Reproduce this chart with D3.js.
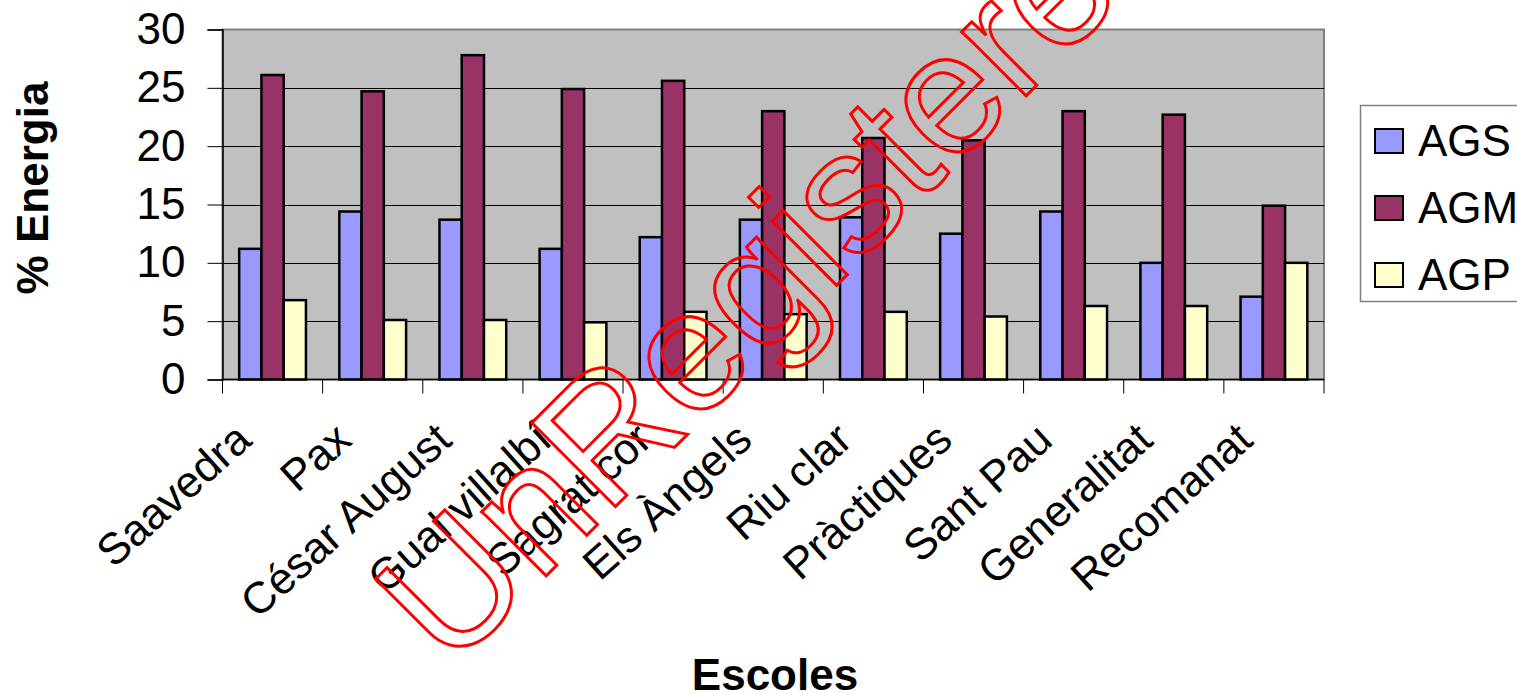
<!DOCTYPE html>
<html>
<head>
<meta charset="utf-8">
<script src="https://cdn.jsdelivr.net/npm/d3@7"></script>
<style>
  html, body { margin: 0; padding: 0; background: #fff; }
  svg { display: block; }
  text { font-family: "Liberation Sans", Arial, sans-serif; }
</style>
</head>
<body>
<svg id="chart" width="1517" height="694"></svg>
<script>
// Energy share by school, three fat groups
const categories = ["Saavedra", "Pax", "César August", "Gual villalbí", "Sagrat cor",
  "Els Àngels", "Riu clar", "Pràctiques", "Sant Pau", "Generalitat", "Recomanat"];
const seriesNames = ["AGS", "AGM", "AGP"];
const agsValues = [11.2, 14.4, 13.7, 11.2, 12.2, 13.7, 13.9, 12.5, 14.4, 10.0, 7.1];
const agmValues = [26.1, 24.7, 27.8, 24.9, 25.6, 23.0, 20.7, 20.5, 23.0, 22.7, 14.9];
const agpValues = [6.8, 5.1, 5.1, 4.9, 5.8, 5.6, 5.8, 5.4, 6.3, 6.3, 10.0];
const yTicks = [0, 5, 10, 15, 20, 25, 30];
const seriesColors = ["#9999FF", "#993366", "#FFFFCC"];

const seriesValues = [agsValues, agmValues, agpValues];

const svg = d3.select("#chart");
const plot = { left: 222.5, right: 1324, top: 29.5, bottom: 379.5 };

const x = d3.scaleBand().domain(categories).range([plot.left, plot.right]).paddingInner(0).paddingOuter(0);
const groupWidth = x.bandwidth() / 1.5;
const xs = d3.scaleBand().domain(seriesNames).range([0, groupWidth]);
const y = d3.scaleLinear().domain([0, 30]).range([plot.bottom, plot.top]);

// plot background
svg.append("rect")
  .attr("x", plot.left).attr("y", plot.top)
  .attr("width", plot.right - plot.left).attr("height", plot.bottom - plot.top)
  .attr("fill", "#C0C0C0").attr("stroke", "#808080").attr("stroke-width", 2);

// gridlines
svg.append("g").selectAll("line")
  .data(yTicks.filter(t => t > 0 && t < 30))
  .join("line")
  .attr("x1", plot.left).attr("x2", plot.right)
  .attr("y1", d => Math.round(y(d)) + 0.5).attr("y2", d => Math.round(y(d)) + 0.5)
  .attr("stroke", "#000").attr("stroke-width", 1);

// bars
const groups = svg.append("g").selectAll("g")
  .data(categories)
  .join("g")
  .attr("transform", c => `translate(${x(c) + (x.bandwidth() - groupWidth) / 2},0)`);

groups.selectAll("rect")
  .data((c, i) => seriesNames.map((s, k) => ({ s, v: seriesValues[k][i], k })))
  .join("rect")
  .attr("x", d => xs(d.s))
  .attr("y", d => y(d.v))
  .attr("width", xs.bandwidth())
  .attr("height", d => y(0) - y(d.v))
  .attr("fill", d => seriesColors[d.k])
  .attr("stroke", "#000").attr("stroke-width", 2.5);

// y axis
const yAxis = d3.axisLeft(y).tickValues(yTicks).tickSize(15).tickPadding(22);
const gy = svg.append("g").attr("transform", `translate(${plot.left},0)`).call(yAxis);
gy.select(".domain").attr("stroke", "#000").attr("stroke-width", 1.5);
gy.selectAll(".tick line").attr("stroke", "#000");
gy.selectAll(".tick text").attr("font-size", 44).attr("fill", "#000")
  .attr("font-family", "Liberation Sans, Arial, sans-serif");

// x axis: ticks on category boundaries
svg.append("line")
  .attr("x1", plot.left).attr("x2", plot.right)
  .attr("y1", plot.bottom).attr("y2", plot.bottom)
  .attr("stroke", "#000").attr("stroke-width", 1.5);
const boundaries = categories.map(c => x(c)).concat([plot.right]);
svg.append("g").selectAll("line")
  .data(boundaries)
  .join("line")
  .attr("x1", d => d).attr("x2", d => d)
  .attr("y1", plot.bottom).attr("y2", plot.bottom + 14)
  .attr("stroke", "#000").attr("stroke-width", 1);

// category labels
svg.append("g").selectAll("text")
  .data(categories)
  .join("text")
  .attr("transform", c => `translate(${x(c) + x.bandwidth() / 2 - 19},443) rotate(-42)`)
  .attr("text-anchor", "end")
  .attr("font-size", 44)
  .attr("fill", "#000")
  .text(c => c);

// axis titles
svg.append("text")
  .attr("transform", "translate(48,188) rotate(-90)")
  .attr("text-anchor", "middle")
  .attr("font-size", 44).attr("font-weight", "bold")
  .text("% Energia");
svg.append("text")
  .attr("x", 775).attr("y", 690)
  .attr("text-anchor", "middle")
  .attr("font-size", 44).attr("font-weight", "bold")
  .text("Escoles");

// legend
const legend = svg.append("g");
legend.append("rect")
  .attr("x", 1360.5).attr("y", 105.5).attr("width", 170).attr("height", 196)
  .attr("fill", "#fff").attr("stroke", "#808080").attr("stroke-width", 1.5);
const items = legend.selectAll("g.item")
  .data(seriesNames)
  .join("g").attr("class", "item")
  .attr("transform", (d, i) => `translate(1375,${129 + i * 67})`);
items.append("rect")
  .attr("width", 28).attr("height", 24)
  .attr("fill", (d, i) => seriesColors[i])
  .attr("stroke", "#000").attr("stroke-width", 2);
items.append("text")
  .attr("x", 43).attr("y", 27)
  .attr("font-size", 44)
  .text(d => d);

// overlay stamp
svg.append("text")
  .attr("transform", "translate(450,672) rotate(-45)")
  .attr("font-size", 172)
  .attr("fill", "none")
  .attr("stroke", "#FF0000").attr("stroke-width", 3)
  .text("UnRegistered");
</script>
</body>
</html>
